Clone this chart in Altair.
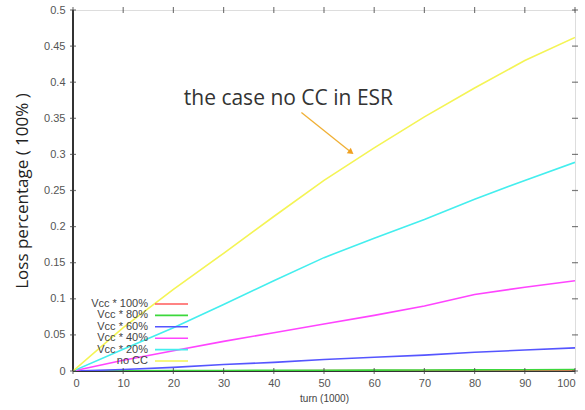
import altair as alt
import pandas as pd

# turn count (in thousands) at which each loss value is sampled
turns = [0, 10, 20, 30, 40, 50, 60, 70, 80, 90, 100]

# loss fraction per beam-cooling setting
vcc_100 = [0, 0.0001, 0.0002, 0.0003, 0.0004, 0.0005, 0.0006, 0.0007, 0.0008, 0.0009, 0.001]
vcc_80 = [0, 0.0003, 0.0005, 0.0007, 0.0009, 0.001, 0.0012, 0.0014, 0.0016, 0.0018, 0.002]
vcc_60 = [0, 0.002, 0.005, 0.009, 0.012, 0.016, 0.019, 0.022, 0.026, 0.029, 0.032]
vcc_40 = [0, 0.015, 0.028, 0.041, 0.053, 0.065, 0.077, 0.090, 0.106, 0.116, 0.125]
vcc_20 = [0, 0.030, 0.060, 0.092, 0.125, 0.157, 0.184, 0.210, 0.238, 0.264, 0.289]
no_cc = [0, 0.060, 0.113, 0.163, 0.214, 0.264, 0.309, 0.352, 0.392, 0.430, 0.462]

series_names = ["Vcc * 100%", "Vcc * 80%", "Vcc * 60%", "Vcc * 40%", "Vcc * 20%", "no CC"]
series_values = [vcc_100, vcc_80, vcc_60, vcc_40, vcc_20, no_cc]
series_colors = ["#ff5a5a", "#3cd83c", "#5555ff", "#ff44ff", "#44eeee", "#f4f455"]

x_ticks = [0, 10, 20, 30, 40, 50, 60, 70, 80, 90, 100]
y_ticks = [0, 0.05, 0.1, 0.15, 0.2, 0.25, 0.3, 0.35, 0.4, 0.45, 0.5]

annotation_text = "the case no CC in ESR"
arrow_from = (45.5, 0.358)
arrow_to = (55.4, 0.303)

W, H = 502, 361

rows = []
for name, vals in zip(series_names, series_values):
    for t, v in zip(turns, vals):
        rows.append({"turn": t, "loss": v, "series": name})
df = pd.DataFrame(rows)

xs = alt.Scale(domain=[0, 100], nice=False)
ys = alt.Scale(domain=[0, 0.5], nice=False)
color = alt.Color("series:N", scale=alt.Scale(domain=series_names, range=series_colors), legend=None)

# one axis definition shared by every layer so the merged axes agree
x_axis = alt.Axis(values=x_ticks, labelExpr="datum.value + ''", title="turn (1000)",
                  grid=False, ticks=False, domain=False, labelOverlap=False,
                  labelFont="Liberation Sans", labelFontSize=11, labelColor="#555",
                  labelPadding=6, titleFont="Liberation Sans", titleFontSize=10,
                  titleColor="#444", titleFontWeight="normal", titlePadding=5)
y_axis = alt.Axis(values=y_ticks, labelExpr="datum.value + ''",
                  title="Loss percentage ( 100% )", labelOverlap=False,
                  grid=False, ticks=False, domain=False, labelFont="Liberation Sans",
                  labelFontSize=11, labelColor="#555", labelPadding=8,
                  titleFont="Open Sans", titleFontSize=17, titleColor="#222",
                  titleFontWeight="normal", titlePadding=12)


def X(field):
    return alt.X(field, scale=xs, axis=x_axis)


def Y(field):
    return alt.Y(field, scale=ys, axis=y_axis)


lines = alt.Chart(df).mark_line(strokeWidth=1.6, clip=True).encode(
    x=X("turn:Q"), y=Y("loss:Q"), color=color,
    order=alt.Order("series_idx:Q"),
).transform_calculate(
    series_idx="indexof(" + str(series_names) + ", datum.series)"
)

# frame ticks crossing the border on all four sides
xt = pd.DataFrame({"turn": x_ticks})
yt = pd.DataFrame({"loss": y_ticks})
tick_style = dict(color="#444", thickness=1.2, size=6)
bottom_ticks = alt.Chart(xt).mark_tick(**tick_style).encode(x=X("turn:Q"), y=alt.value(H))
top_ticks = alt.Chart(xt).mark_tick(**tick_style).encode(x=X("turn:Q"), y=alt.value(0))
left_ticks = alt.Chart(yt).mark_tick(**tick_style).encode(y=Y("loss:Q"), x=alt.value(0))
right_ticks = alt.Chart(yt).mark_tick(**tick_style).encode(y=Y("loss:Q"), x=alt.value(W))

# darker left and bottom axis lines
frame = pd.DataFrame({"a": [0]})
left_line = alt.Chart(frame).mark_rule(color="#333", strokeWidth=2).encode(
    x=alt.value(0), y=alt.value(0), y2=alt.value(H))
bottom_line = alt.Chart(frame).mark_rule(color="#333", strokeWidth=2).encode(
    x=alt.value(0), x2=alt.value(W), y=alt.value(H))

# legend: labels right-aligned, line samples to their right
leg = pd.DataFrame({"series": series_names, "idx": list(range(len(series_names)))})
leg_base = alt.Chart(leg).transform_calculate(
    py="294 + 11.4 * datum.idx", x1="82", x2="115"
)
leg_text = leg_base.mark_text(align="right", baseline="middle", font="Liberation Sans",
                              fontSize=11, color="#444").encode(
    x=alt.value(75), y=alt.Y("py:Q", scale=None), text="series:N")
leg_lines = leg_base.mark_rule(strokeWidth=1.6).encode(
    x=alt.X("x1:Q", scale=None), x2="x2:Q", y=alt.Y("py:Q", scale=None), color=color)

# annotation with arrow
ann = pd.DataFrame({"turn": [arrow_from[0]], "loss": [arrow_from[1]],
                    "turn2": [arrow_to[0]], "loss2": [arrow_to[1]], "label": [annotation_text]})
ann_text = alt.Chart(ann).mark_text(font="Open Sans", fontSize=21, color="#333",
                                    align="center", baseline="bottom", dx=-13, dy=-4).encode(
    x=X("turn:Q"), y=Y("loss:Q"), text="label:N")
ann_line = alt.Chart(ann).mark_rule(color="#f0b035", strokeWidth=1.3).encode(
    x=X("turn:Q"), y=Y("loss:Q"), x2="turn2:Q", y2="loss2:Q")
ann_head = alt.Chart(ann).mark_point(shape="triangle-up", filled=True, color="#f0a020",
                                     size=45, angle=127, opacity=1).encode(
    x=X("turn2:Q"), y=Y("loss2:Q"))

chart = alt.layer(
    left_line, bottom_line, lines, bottom_ticks, top_ticks, left_ticks, right_ticks,
    leg_lines, leg_text, ann_line, ann_head, ann_text
).properties(
    width=W, height=H,
    autosize=alt.AutoSizeParams(type="none"),
    padding={"left": 73, "top": 10, "right": 10, "bottom": 39},
).configure_view(
    stroke="#444", strokeWidth=1.5
).configure(background="white")

chart.save("out.html", embed_options={"renderer": "svg", "actions": False})
